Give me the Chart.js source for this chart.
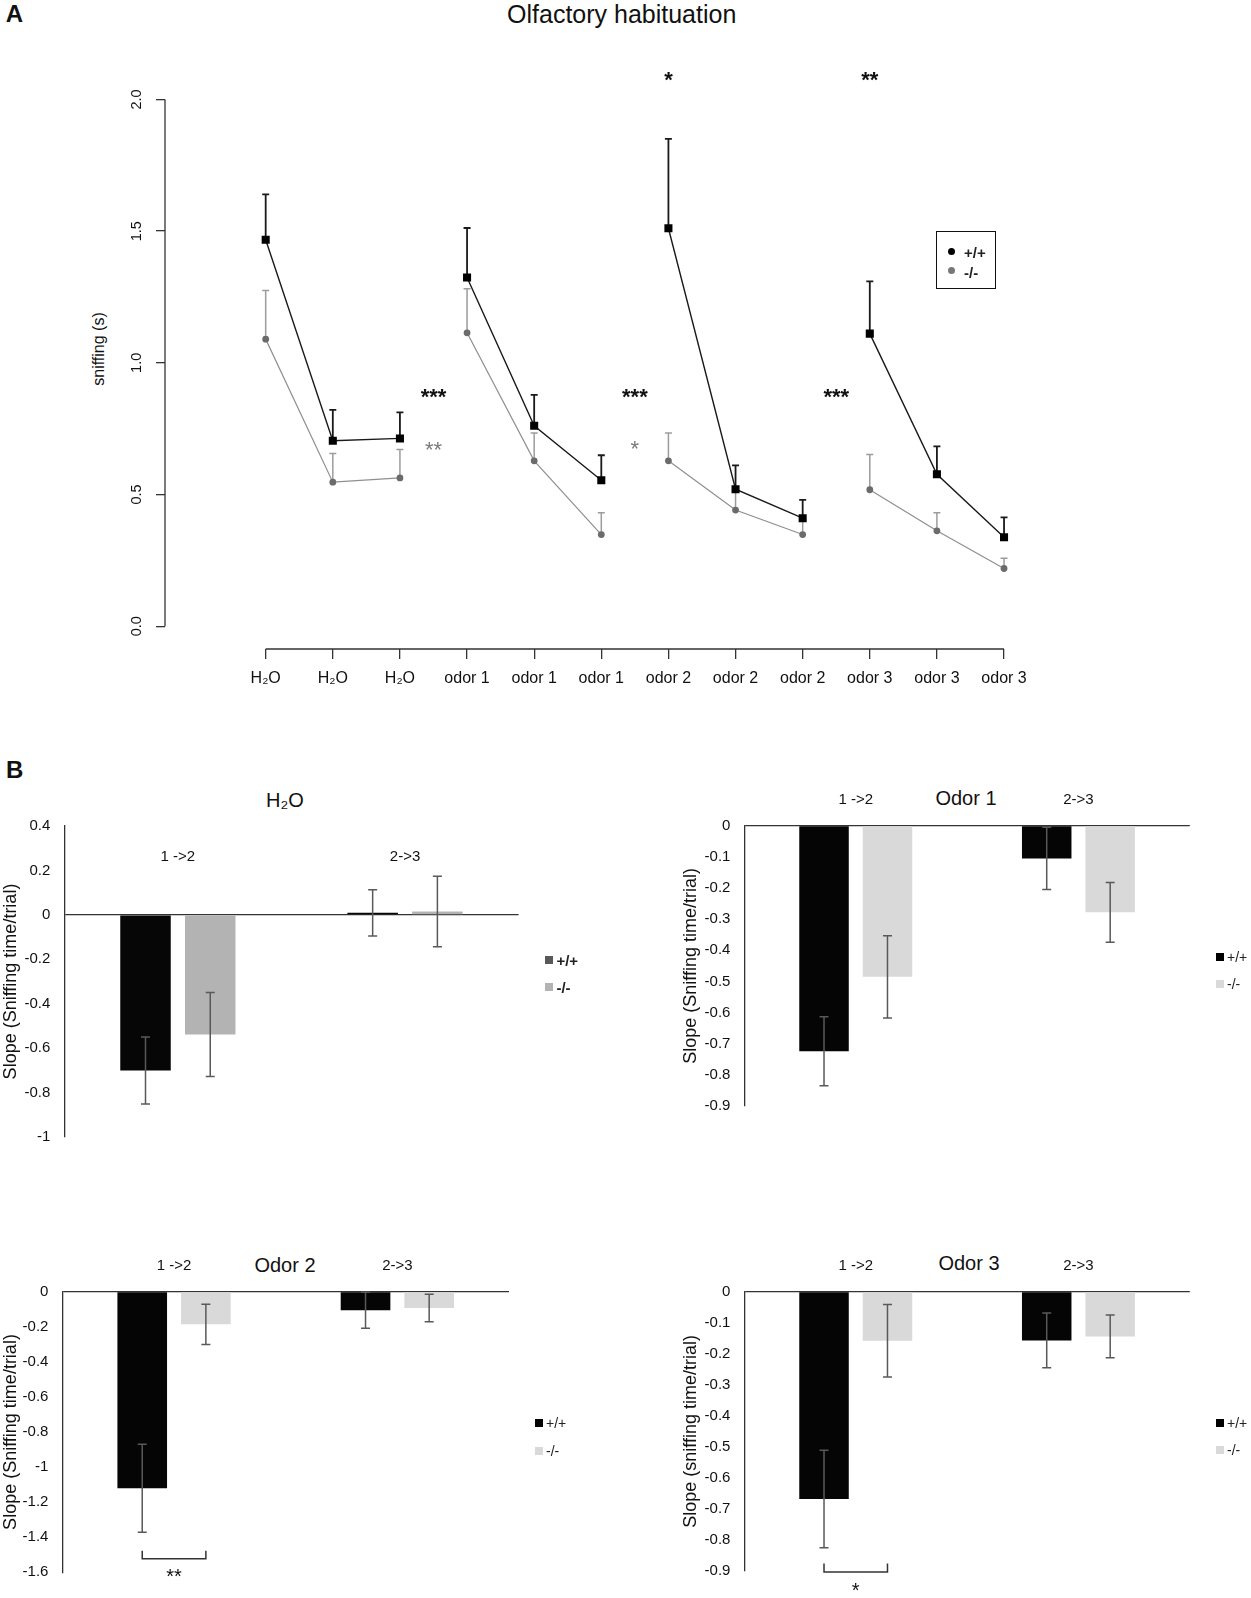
<!DOCTYPE html>
<html>
<head>
<meta charset="utf-8">
<script src="https://cdn.jsdelivr.net/npm/chart.js@4.4.1/dist/chart.umd.min.js"></script>
<style>
  body{margin:0;background:#fff;font-family:"Liberation Sans",Arial,sans-serif;}
  #page{position:relative;width:1251px;height:1598px;overflow:hidden;background:#fff;}
  canvas{position:absolute;}
  .t{position:absolute;transform:translate(-50%,-50%);white-space:nowrap;line-height:1;color:#111;}
  .rot{transform:translate(-50%,-50%) rotate(-90deg);}
  .lg{position:absolute;transform:translateY(-50%);white-space:nowrap;line-height:1;color:#222;}
  #legA{position:absolute;left:936px;top:231px;width:60px;height:58px;box-sizing:border-box;border:1.3px solid #111;}
  .dot{position:absolute;width:7px;height:7px;border-radius:50%;}
</style>
</head>
<body>
<div id="page">
  <div class="t" style="left:14.5px;top:14px;font-size:24px;font-weight:bold">A</div>
  <div class="t" style="left:621.7px;top:14px;font-size:25px">Olfactory habituation</div>
  <div class="t rot" style="left:99px;top:349px;font-size:16px">sniffing (s)</div>
  <div class="t" style="left:14.7px;top:770px;font-size:24px;font-weight:bold">B</div>
  <div class="t" style="left:285px;top:800px;font-size:20px">H₂O</div>
  <div class="t" style="left:966px;top:798px;font-size:20px">Odor 1</div>
  <div class="t" style="left:285px;top:1265px;font-size:20px">Odor 2</div>
  <div class="t" style="left:969px;top:1263px;font-size:20px">Odor 3</div>

  <canvas id="chartA"></canvas>
  <canvas id="chartH2O"></canvas>
  <canvas id="chartOd1"></canvas>
  <canvas id="chartOd2"></canvas>
  <canvas id="chartOd3"></canvas>

  <div id="legA">
    <div class="dot" style="left:10.5px;top:15.5px;background:#000"></div>
    <div class="lg" style="left:27px;top:20px;font-size:15px;font-weight:bold">+/+</div>
    <div class="dot" style="left:10.5px;top:34.5px;background:#777"></div>
    <div class="lg" style="left:27px;top:39.5px;font-size:15px;font-weight:bold">-/-</div>
  </div>
</div>

<script>
Chart.defaults.font.family = '"Liberation Sans", Arial, sans-serif';
Chart.defaults.color = '#111';

// ===== panel A: sniffing time per trial
const trialLabels = ['H\u2082O','H\u2082O','H\u2082O','odor 1','odor 1','odor 1','odor 2','odor 2','odor 2','odor 3','odor 3','odor 3'];
const trialPos = [1,2,3,4,5,6,7,8,9,10,11,12];
const wtMean = [1.467,0.704,0.713,1.324,0.761,0.554,1.511,0.520,0.410,1.111,0.577,0.338];
const wtSem  = [0.173,0.117,0.099,0.188,0.117,0.095,0.339,0.091,0.070,0.198,0.106,0.075];
const koMean = [1.090,0.547,0.563,1.114,0.628,0.348,0.628,0.441,0.348,0.518,0.362,0.219];
const koSem  = [0.185,0.109,0.108,0.167,0.106,0.083,0.106,0.070,0.050,0.134,0.069,0.039];
const yTicksA = [0, 0.5, 1, 1.5, 2];
const starX   = [3.5, 3.5, 6.5, 6.5, 9.5, 7, 10];
const starY   = [0.893, 0.691, 0.893, 0.693, 0.893, 2.097, 2.097];
const starTxt = ['***','**','***','*','***','*','**'];
const starGrey = [false, true, false, true, false, false, false];

// ===== panel B: habituation slopes
const genotypes = ['+/+', '-/-'];
const slopeCats = ['1 ->2', '2->3'];
const h2oWt = [-0.701, 0.009], h2oWtErr = [0.151, 0.104];
const h2oKo = [-0.539, 0.015], h2oKoErr = [0.189, 0.159];
const od1Wt = [-0.724, -0.105], od1WtErr = [0.111, 0.100];
const od1Ko = [-0.485, -0.278], od1KoErr = [0.132, 0.096];
const od2Wt = [-1.121, -0.106], od2WtErr = [0.251, 0.103];
const od2Ko = [-0.186, -0.093], od2KoErr = [0.115, 0.079];
const od3Wt = [-0.668, -0.157], od3WtErr = [0.157, 0.088];
const od3Ko = [-0.158, -0.144], od3KoErr = [0.117, 0.069];
const h2oTicks = [-1, -0.8, -0.6, -0.4, -0.2, 0, 0.2, 0.4];
const od1Ticks = [-0.9, -0.8, -0.7, -0.6, -0.5, -0.4, -0.3, -0.2, -0.1, 0];
const od2Ticks = [-1.6, -1.4, -1.2, -1, -0.8, -0.6, -0.4, -0.2, 0];
const od3Ticks = [-0.9, -0.8, -0.7, -0.6, -0.5, -0.4, -0.3, -0.2, -0.1, 0];
const od2Bracket = [-1.523, -1.477, -1.596]; // line, arm end, label
const od3Bracket = [-0.903, -0.876, -0.945];

const FONT = '"Liberation Sans", Arial, sans-serif';

function place(cv, box){
  cv.width = box[2]; cv.height = box[3];
  cv.style.left = box[0] + 'px'; cv.style.top = box[1] + 'px';
  cv.style.width = box[2] + 'px'; cv.style.height = box[3] + 'px';
}

// upper error bars (panel A), drawn under the markers
const upErr = {
  id: 'upErr',
  beforeDatasetsDraw(chart){
    const {ctx, scales:{y}} = chart;
    chart.data.datasets.forEach((ds, di) => {
      chart.getDatasetMeta(di).data.forEach((pt, i) => {
        const d = ds.data[i];
        if (d.y === null) return;
        const top = y.getPixelForValue(d.y + d.e);
        ctx.save();
        ctx.strokeStyle = ds.errColor; ctx.lineWidth = ds.errWidth;
        ctx.beginPath();
        ctx.moveTo(pt.x, pt.y); ctx.lineTo(pt.x, top);
        ctx.moveTo(pt.x - 3.5, top); ctx.lineTo(pt.x + 3.5, top);
        ctx.stroke(); ctx.restore();
      });
    });
  }
};

// axis lines R style + significance stars
const rAxes = {
  id: 'rAxes',
  afterDraw(chart){
    const {ctx, chartArea:a, scales:{x, y}} = chart;
    ctx.save();
    ctx.strokeStyle = '#333'; ctx.lineWidth = 1.3;
    ctx.beginPath();
    ctx.moveTo(x.getPixelForValue(trialPos[0]), a.bottom);
    ctx.lineTo(x.getPixelForValue(trialPos[trialPos.length - 1]), a.bottom);
    ctx.moveTo(a.left, y.getPixelForValue(yTicksA[0]));
    ctx.lineTo(a.left, y.getPixelForValue(yTicksA[yTicksA.length - 1]));
    ctx.stroke();
    ctx.textAlign = 'center'; ctx.textBaseline = 'alphabetic';
    starTxt.forEach((s, i) => {
      const size = 22;
      ctx.font = (starGrey[i] ? '' : 'bold ') + size + 'px ' + FONT;
      ctx.fillStyle = starGrey[i] ? '#7a7a7a' : '#111';
      ctx.fillText(s, x.getPixelForValue(starX[i]), y.getPixelForValue(starY[i]) + 0.58 * size);
    });
    ctx.restore();
  }
};

function series(mean, sem){
  const pts = [];
  mean.forEach((m, i) => {
    pts.push({x: trialPos[i], y: m, e: sem[i]});
    if (i % 3 === 2 && i < mean.length - 1) pts.push({x: trialPos[i] + 0.5, y: null});
  });
  return pts;
}

(function(){
  const box = [0, 0, 1251, 700];
  const area = {l:165, t:78.4, r:1037.6, b:649};
  const yW = 60, xH = 40;
  const cv = document.getElementById('chartA');
  place(cv, box);
  new Chart(cv, {
    type: 'line',
    data: { datasets: [
      { label: genotypes[0], data: series(wtMean, wtSem), order: 1,
        borderColor: '#1a1a1a', borderWidth: 1.4, pointStyle: 'rect', pointRadius: 5.7,
        pointBackgroundColor: '#000', pointBorderColor: '#000', pointBorderWidth: 0,
        errColor: '#1a1a1a', errWidth: 1.8, spanGaps: false },
      { label: genotypes[1], data: series(koMean, koSem), order: 2,
        borderColor: '#8f8f8f', borderWidth: 1.2, pointStyle: 'circle', pointRadius: 3.4,
        pointBackgroundColor: '#6b6b6b', pointBorderColor: '#6b6b6b', pointBorderWidth: 0,
        errColor: '#9c9c9c', errWidth: 1.5, spanGaps: false }
    ]},
    options: {
      responsive: false, animation: false,
      layout: { padding: { left: area.l - yW, top: area.t, right: box[2] - area.r, bottom: box[3] - area.b - xH } },
      plugins: { legend: { display: false }, tooltip: { enabled: false } },
      scales: {
        x: { type: 'linear', min: -0.5, max: 12.5,
          afterBuildTicks: s => { s.ticks = trialPos.map(v => ({value: v})); },
          afterFit: s => { s.height = xH; },
          border: { display: false },
          grid: { drawOnChartArea: false, drawTicks: true, tickLength: 10, color: '#333', lineWidth: 1.3 },
          ticks: { autoSkip: false, maxRotation: 0, padding: 10.4, color: '#111', font: { size: 16 },
                   callback: (v, i) => trialLabels[i] } },
        y: { min: -0.0866, max: 2.08,
          afterBuildTicks: s => { s.ticks = yTicksA.map(v => ({value: v})); },
          afterFit: s => { s.width = yW; },
          border: { display: false },
          grid: { drawOnChartArea: false, drawTicks: true, tickLength: 9, color: '#333', lineWidth: 1.3 },
          ticks: { minRotation: 90, maxRotation: 90, crossAlign: 'center', padding: 9.3, color: '#111',
                   font: { size: 14.5 }, callback: v => v.toFixed(1) } }
      }
    },
    plugins: [upErr, rAxes]
  });
})();

// symmetric error bars on the slope bars
const barErr = {
  id: 'barErr',
  afterDatasetsDraw(chart){
    const {ctx, scales:{y}} = chart;
    chart.data.datasets.forEach((ds, di) => {
      chart.getDatasetMeta(di).data.forEach((bar, i) => {
        const v = ds.data[i], e = ds.err[i];
        const y1 = y.getPixelForValue(v + e), y2 = y.getPixelForValue(v - e);
        ctx.save();
        ctx.strokeStyle = '#595959'; ctx.lineWidth = 1.5;
        ctx.beginPath();
        ctx.moveTo(bar.x, y1); ctx.lineTo(bar.x, y2);
        ctx.moveTo(bar.x - 4.5, y1); ctx.lineTo(bar.x + 4.5, y1);
        ctx.moveTo(bar.x - 4.5, y2); ctx.lineTo(bar.x + 4.5, y2);
        ctx.stroke(); ctx.restore();
      });
    });
  }
};

const bracket = {
  id: 'bracket',
  afterDraw(chart, args, o){
    const {ctx, scales:{y}} = chart;
    const xa = chart.getDatasetMeta(0).data[0].x, xb = chart.getDatasetMeta(1).data[0].x;
    const yb = y.getPixelForValue(o.at[0]), ya = y.getPixelForValue(o.at[1]);
    ctx.save();
    ctx.strokeStyle = '#333'; ctx.lineWidth = 1.5;
    ctx.beginPath();
    ctx.moveTo(xa, ya); ctx.lineTo(xa, yb); ctx.lineTo(xb, yb); ctx.lineTo(xb, ya);
    ctx.stroke();
    ctx.fillStyle = '#111'; ctx.font = '20px ' + FONT;
    ctx.textAlign = 'center'; ctx.textBaseline = 'alphabetic';
    ctx.fillText(o.label, (xa + xb) / 2, y.getPixelForValue(o.at[2]) + 0.58 * 20);
    ctx.restore();
  }
};

function slopeChart(id, p){
  const cv = document.getElementById(id);
  place(cv, p.box);
  const lh = 18 * 1.2;
  const padL = Math.max(p.ylabX - p.box[0] - lh / 2, 0);
  const yW = p.area[0] - p.box[0] - padL;
  const xH = p.area[1] - p.box[1];
  new Chart(cv, {
    type: 'bar',
    data: { labels: slopeCats, datasets: [
      { label: genotypes[0], data: p.wt, err: p.wtErr, backgroundColor: p.colors[0], categoryPercentage: 0.57, barPercentage: 0.78 },
      { label: genotypes[1], data: p.ko, err: p.koErr, backgroundColor: p.colors[1], categoryPercentage: 0.57, barPercentage: 0.78 }
    ]},
    options: {
      responsive: false, animation: false,
      layout: { padding: { left: padL, top: 0, right: p.box[0] + p.box[2] - p.area[2], bottom: p.box[1] + p.box[3] - p.area[3] } },
      plugins: { legend: { display: false }, tooltip: { enabled: false }, bracket: p.bracket || false },
      scales: {
        x: { position: 'top', grid: { display: false }, border: { display: false },
             afterFit: s => { s.height = xH; },
             // category labels sit inside the plot for the H2O panel
             ticks: { mirror: !!p.catInside, padding: p.catPad, color: '#111', font: { size: 15 } } },
        y: { min: p.ticks[0], max: p.ticks[p.ticks.length - 1],
             afterBuildTicks: s => { s.ticks = p.ticks.map(v => ({value: v})); },
             afterFit: s => { s.width = yW; },
             border: { display: true, color: '#333', width: 1.3 },
             grid: { drawTicks: false, lineWidth: 1.3,
                     color: c => (c.tick && c.tick.value === 0) ? '#333' : 'rgba(0,0,0,0)' },
             ticks: { padding: 14, color: '#111', font: { size: 15 }, callback: v => String(+v.toFixed(2)) },
             title: { display: true, text: p.ylab, color: '#111', font: { size: 18 }, padding: { top: 0, bottom: 0 } } }
      }
    },
    plugins: [barErr, bracket]
  });
  // legend
  const page = document.getElementById('page');
  genotypes.forEach((g, i) => {
    const sq = document.createElement('div');
    sq.style.cssText = `position:absolute;left:${p.leg[0]}px;top:${p.leg[1 + i] - 4}px;width:8px;height:8px;background:${p.legColors[i]}`;
    const tx = document.createElement('div');
    tx.className = 'lg'; tx.textContent = g;
    tx.style.cssText = `left:${p.leg[0] + 11}px;top:${p.leg[1 + i]}px;font-size:${p.legBold ? 15 : 14}px;font-weight:${p.legBold ? 'bold' : 'normal'}`;
    page.append(sq, tx);
  });
}

slopeChart('chartH2O', {
  box: [0, 800, 620, 360], area: [64.3, 826, 518.6, 1140.3], ylabX: 10, catPad: 22, catInside: true,
  ticks: h2oTicks, wt: h2oWt, wtErr: h2oWtErr, ko: h2oKo, koErr: h2oKoErr,
  colors: ['#060606', '#b3b3b3'], legColors: ['#595959', '#b3b3b3'], legBold: true,
  leg: [545.4, 960, 987], ylab: 'Slope (Sniffing time/trial)'
});
slopeChart('chartOd1', {
  box: [640, 790, 611, 340], area: [744.4, 825.7, 1189.8, 1106.1], ylabX: 691.4, catPad: 9,
  ticks: od1Ticks, wt: od1Wt, wtErr: od1WtErr, ko: od1Ko, koErr: od1KoErr,
  colors: ['#050505', '#d9d9d9'], legColors: ['#000', '#d9d9d9'], legBold: false,
  leg: [1216, 957.3, 984.3], ylab: 'Slope (Sniffing time/trial)'
});
slopeChart('chartOd2', {
  box: [0, 1250, 620, 348], area: [62.4, 1291.7, 509, 1572.3], ylabX: 9.6, catPad: 8.7,
  ticks: od2Ticks, wt: od2Wt, wtErr: od2WtErr, ko: od2Ko, koErr: od2KoErr,
  colors: ['#050505', '#d9d9d9'], legColors: ['#000', '#d9d9d9'], legBold: false,
  leg: [535, 1423.3, 1450.7], ylab: 'Slope (Sniffing time/trial)',
  bracket: { at: od2Bracket, label: '**' }
});
slopeChart('chartOd3', {
  box: [640, 1250, 611, 348], area: [744.4, 1291.7, 1189.8, 1571], ylabX: 691.4, catPad: 8.7,
  ticks: od3Ticks, wt: od3Wt, wtErr: od3WtErr, ko: od3Ko, koErr: od3KoErr,
  colors: ['#050505', '#d9d9d9'], legColors: ['#000', '#d9d9d9'], legBold: false,
  leg: [1216, 1423.3, 1450], ylab: 'Slope (sniffing time/trial)',
  bracket: { at: od3Bracket, label: '*' }
});
</script>
</body>
</html>
